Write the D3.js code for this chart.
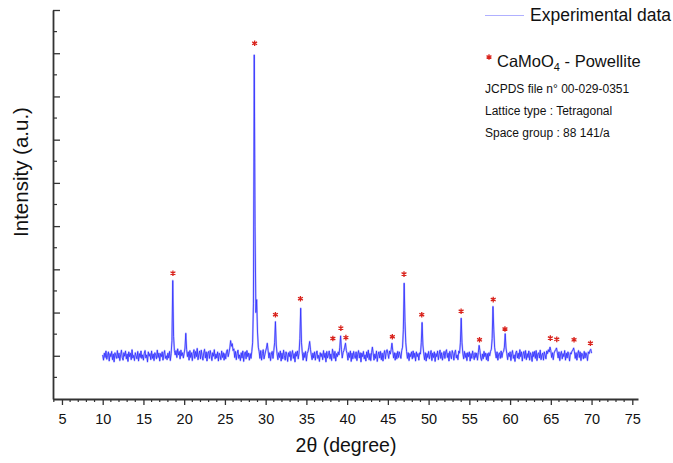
<!DOCTYPE html>
<html><head><meta charset="utf-8">
<script src="https://cdn.jsdelivr.net/npm/d3@7"></script>
<style>body{margin:0;background:#fff}svg{display:block}text{font-family:"Liberation Sans",Arial,sans-serif}</style>
</head><body><svg id="c" width="673" height="463"></svg>
<script>
// XRD pattern: 2θ from 10.0° to 70.0° in 0.1° steps
const twoThetaStart = 10.0, twoThetaStep = 0.1;
const intensity = [
0.02,-0.10,0.06,-0.04,0.11,-0.08,0.01,0.09,-0.12,0.05,
-0.02,0.10,-0.09,0.04,-0.14,0.07,0.00,-0.06,0.12,-0.05,
0.06,-0.11,0.02,0.13,-0.04,-0.10,0.07,-0.01,0.11,-0.07,
0.04,-0.13,0.09,-0.02,0.06,-0.09,0.14,-0.05,0.01,-0.11,
0.07,0.00,-0.07,0.10,-0.12,0.05,-0.04,0.11,-0.06,0.02,
-0.10,0.06,0.12,-0.05,0.02,-0.14,0.09,-0.01,0.05,-0.09,
0.11,-0.06,0.04,-0.11,0.07,0.01,-0.07,0.13,-0.04,0.06,
-0.12,0.05,-0.02,0.09,-0.10,0.04,0.12,-0.06,0.00,-0.09,
0.06,-0.05,0.10,-0.11,0.05,0.35,1.74,0.45,0.12,0.02,
0.12,-0.04,0.16,0.02,0.10,-0.07,0.13,0.00,0.07,-0.05,
0.06,0.18,0.52,0.15,-0.02,0.09,-0.10,0.12,-0.04,0.07,
-0.11,0.05,0.14,-0.06,0.10,-0.02,0.17,-0.09,0.04,0.11,
-0.07,0.13,0.00,-0.10,0.07,0.15,-0.05,0.09,-0.12,0.06,
0.10,-0.06,0.12,0.02,-0.11,0.07,-0.01,0.14,-0.07,0.04,
-0.05,0.09,-0.12,0.06,0.01,-0.09,0.11,-0.04,0.07,-0.10,
0.05,-0.07,0.10,0.14,-0.02,0.07,0.18,0.35,0.22,0.28,
0.12,0.16,-0.04,0.10,-0.09,0.05,0.13,-0.06,0.02,-0.11,
0.07,-0.05,0.11,-0.13,0.04,0.09,-0.07,0.12,-0.02,0.06,
-0.10,0.05,-0.06,0.10,0.30,1.20,6.96,3.00,1.00,1.30,
0.55,0.20,0.10,-0.06,0.12,-0.10,0.05,0.14,-0.07,0.02,
0.11,0.18,0.29,0.12,-0.05,0.07,-0.11,0.04,0.10,-0.06,
0.12,0.30,0.79,0.25,0.05,-0.09,0.07,-0.04,0.11,-0.12,
0.06,-0.07,0.13,0.00,-0.10,0.09,0.02,-0.13,0.07,-0.02,
0.10,-0.11,0.04,0.12,-0.06,0.05,-0.14,0.09,-0.01,0.11,
-0.07,0.06,0.40,1.10,0.30,0.06,-0.10,0.07,-0.04,0.10,
-0.12,0.05,0.10,0.20,0.33,0.15,0.02,-0.09,0.06,-0.05,
0.09,-0.10,0.04,0.11,-0.06,0.01,-0.13,0.07,-0.02,0.05,
-0.09,0.12,-0.04,0.06,-0.14,0.10,-0.05,0.02,0.11,-0.07,
0.04,-0.11,0.15,0.07,-0.06,0.10,-0.12,0.05,-0.02,0.09,
0.02,0.20,0.46,0.15,-0.05,0.07,0.12,0.20,0.29,0.12,
0.05,-0.10,0.07,-0.04,0.11,-0.13,0.06,-0.07,0.10,0.00,
-0.06,0.09,-0.11,0.04,0.12,-0.05,0.07,-0.14,0.06,-0.02,
0.10,-0.07,0.02,-0.12,0.09,-0.04,0.13,-0.09,0.05,-0.11,
0.07,0.20,0.06,-0.10,0.04,-0.06,0.11,-0.13,0.02,0.09,
-0.05,0.10,-0.09,0.06,-0.12,0.04,0.12,-0.07,0.09,0.14,
0.05,-0.06,0.11,0.04,0.14,0.29,0.12,-0.05,0.07,-0.10,
0.06,-0.07,0.10,-0.04,0.09,0.02,-0.06,0.12,0.20,0.60,
1.68,0.80,0.30,0.10,-0.06,0.07,-0.11,0.05,-0.02,0.09,
-0.07,0.11,-0.04,0.06,-0.12,0.09,-0.02,0.05,-0.10,0.07,
0.04,0.30,0.77,0.25,0.06,-0.09,0.07,-0.12,0.05,-0.04,
0.10,-0.07,0.02,0.12,-0.11,0.06,-0.04,0.09,-0.13,0.05,
-0.02,0.11,-0.09,0.04,0.13,-0.06,0.07,-0.10,0.01,0.10,
-0.06,0.09,0.14,-0.04,0.06,-0.12,0.10,0.00,-0.07,0.12,
0.05,-0.10,0.07,0.13,-0.05,0.02,-0.09,0.11,0.06,0.30,
0.87,0.30,0.06,-0.07,0.10,-0.04,0.06,-0.11,0.07,-0.02,
0.09,-0.12,0.05,-0.06,0.11,0.01,-0.09,0.07,-0.04,0.06,
-0.10,0.07,0.24,0.12,-0.05,-0.11,0.04,-0.07,0.10,-0.02,
0.06,-0.09,0.05,-0.12,0.07,0.00,0.10,0.15,0.40,1.14,
0.60,0.20,0.06,-0.05,0.09,-0.10,0.04,0.07,-0.06,0.11,
-0.04,0.07,0.10,0.20,0.51,0.18,0.05,-0.09,0.06,-0.02,
0.09,-0.11,0.05,0.12,-0.06,0.02,-0.13,0.07,0.11,-0.05,
0.06,-0.07,0.14,-0.02,0.09,-0.12,0.04,0.10,-0.06,0.12,
-0.09,0.05,-0.04,0.11,-0.10,0.07,0.01,-0.13,0.09,-0.02,
0.10,-0.06,0.12,-0.11,0.04,0.07,-0.05,0.13,-0.09,0.02,
0.06,-0.10,0.09,0.02,-0.07,0.11,0.05,0.14,0.09,0.20,
0.12,-0.04,0.07,-0.09,0.06,0.11,0.14,0.18,0.07,-0.05,
0.09,-0.11,0.04,0.10,-0.07,0.05,-0.02,0.12,-0.10,0.06,
-0.05,0.09,0.02,-0.12,0.07,0.04,0.11,0.13,0.18,0.09,
-0.06,0.07,-0.10,0.05,0.12,-0.04,0.09,-0.11,0.06,0.02,
-0.07,0.10,-0.05,0.07,0.02,-0.11,0.09,0.05,0.12,0.15,
0.06
];
// Powellite (CaMoO4) reflection markers
const markerAngles = [18.62,28.65,31.20,34.27,38.25,39.23,39.85,45.55,46.98,49.16,53.99,56.25,57.93,59.37,64.94,65.73,67.85,69.86];
const markerLevels = [1.91,7.23,0.95,1.32,0.40,0.64,0.42,0.44,1.89,0.95,1.03,0.37,1.30,0.62,0.41,0.38,0.37,0.29];
const xTicks = [5,10,15,20,25,30,35,40,45,50,55,60,65,70,75];
const yMajor = [0,1,2,3,4,5,6,7,8];
const legendLines = ["JCPDS file n° 00-029-0351","Lattice type : Tetragonal","Space group : 88 141/a"];

const svg = d3.select("#c");
const x = d3.scaleLinear().domain([3.9,75.7]).range([53,638]);
const y = d3.scaleLinear().domain([-1,8]).range([399,10]);
const axisColor = "#333";

const pts = intensity.map((v,i)=>[twoThetaStart + i*twoThetaStep, v]);
const line = d3.line().x(d=>x(d[0])).y(d=>y(d[1]));
svg.append("path").datum(pts)
  .attr("fill","none").attr("stroke","#c2c2ff").attr("stroke-width",1.9).attr("stroke-linejoin","round")
  .attr("d", line);
svg.append("path").datum(pts)
  .attr("fill","none").attr("stroke","#3030ff").attr("stroke-width",0.85)
  .attr("d", line);

// markers
const star = d3.symbol().type(d3.symbolAsterisk).size(22);
svg.selectAll("path.m").data(markerAngles).join("path").attr("class","m")
  .attr("transform",(d,i)=>`translate(${x(d)},${y(markerLevels[i])})`)
  .attr("d",star).attr("fill","none").attr("stroke","#d9231c").attr("stroke-width",1.3);

// x axis
const minorX = d3.range(4,76,1).filter(v=>v%5!==0);
const gx = svg.append("g").attr("transform","translate(0,399)");
gx.call(d3.axisBottom(x).tickValues(xTicks).tickSizeInner(6).tickSizeOuter(0).tickPadding(9).tickFormat(d3.format("d")));
gx.selectAll(".tick line").attr("stroke",axisColor).attr("stroke-width",1.3);
gx.select(".domain").attr("stroke",axisColor).attr("stroke-width",1.8);
gx.selectAll(".tick text").attr("font-size","14.5px").attr("fill","#111").attr("font-family","Liberation Sans, Arial, sans-serif");
gx.selectAll("line.minor").data(minorX).join("line").attr("class","minor")
  .attr("x1",d=>x(d)).attr("x2",d=>x(d)).attr("y1",0).attr("y2",3).attr("stroke",axisColor).attr("stroke-width",1.2);

// y axis (ticks pointing inward)
const gy = svg.append("g").attr("transform","translate(53,0)");
gy.call(d3.axisLeft(y).tickValues(yMajor).tickSizeInner(-7).tickSizeOuter(0).tickFormat(""));
gy.selectAll(".tick line").attr("stroke",axisColor).attr("stroke-width",1.3);
gy.select(".domain").attr("stroke",axisColor).attr("stroke-width",1.8);
gy.selectAll("line.minor").data(d3.range(-0.5,8,1)).join("line").attr("class","minor")
  .attr("x1",0).attr("x2",4).attr("y1",d=>y(d)).attr("y2",d=>y(d)).attr("stroke",axisColor).attr("stroke-width",1.2);

// titles
svg.append("text").attr("x",346).attr("y",452).attr("text-anchor","middle").attr("font-size","19.5px").attr("fill","#111").text("2θ (degree)");
svg.append("text").attr("transform","translate(28,172) rotate(-90)").attr("text-anchor","middle").attr("font-size","20.5px").attr("fill","#111").text("Intensity (a.u.)");

// legend
svg.append("line").attr("x1",485).attr("x2",524).attr("y1",15.5).attr("y2",15.5).attr("stroke","#b0b0ff").attr("stroke-width",1);
svg.append("text").attr("x",530).attr("y",21).attr("font-size","17.5px").attr("fill","#111").text("Experimental data");
svg.append("path").attr("transform","translate(489,57)").attr("d",star).attr("fill","none").attr("stroke","#d9231c").attr("stroke-width",1.3);
const t2 = svg.append("text").attr("x",497).attr("y",67).attr("font-size","16.5px").attr("fill","#111");
t2.append("tspan").text("CaMoO");
t2.append("tspan").attr("font-size","11px").attr("dy",4).text("4");
t2.append("tspan").attr("dy",-4).text(" - Powellite");
svg.selectAll("text.info").data(legendLines).join("text").attr("class","info")
  .attr("x",485).attr("y",(d,i)=>93+i*22).attr("font-size","12px").attr("fill","#111").text(d=>d);
</script></body></html>
